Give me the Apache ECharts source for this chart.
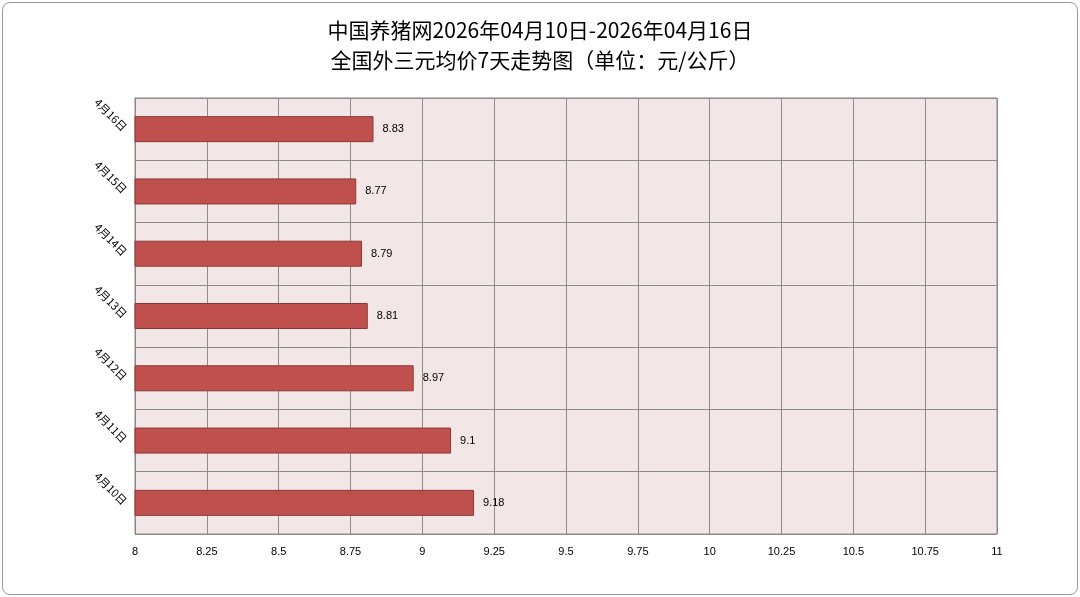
<!DOCTYPE html>
<html><head><meta charset="utf-8">
<script src="https://cdn.jsdelivr.net/npm/echarts@6/dist/echarts.min.js"></script>
<style>html,body{margin:0;padding:0;background:#fff}#c{width:1080px;height:597px}
#f{position:absolute;left:2px;top:2px;width:1074px;height:591px;border:1px solid #999;border-radius:8px;pointer-events:none}</style>
</head><body><div id="c"></div><div id="f"></div>
<script>
const categories = ['4月10日','4月11日','4月12日','4月13日','4月14日','4月15日','4月16日'];
const prices = [9.18, 9.1, 8.97, 8.81, 8.79, 8.77, 8.83];
const titleLines = ['中国养猪网2026年04月10日-2026年04月16日', '全国外三元均价7天走势图（单位：元/公斤）'];
const chart = echarts.init(document.getElementById('c'));
chart.setOption({
  animation: false,
  title: {text: titleLines.join('\n'), left: 'center', top: 10,
    textStyle: {fontSize: 21, fontWeight: 'normal', color: '#000', lineHeight: 30, fontFamily: 'Noto Sans CJK SC'}},
  grid: {left: 135, right: 83, top: 98, bottom: 63, show: true, backgroundColor: '#f3e6e7', borderColor: '#888', borderWidth: 1},
  xAxis: {type: 'value', min: 8, max: 11, interval: 0.25,
    axisLine: {show: false}, axisTick: {show: false},
    splitLine: {lineStyle: {color: '#8c8c8c'}},
    axisLabel: {color: '#000', fontSize: 11, margin: 12, fontFamily: 'Liberation Sans'}},
  yAxis: {type: 'category', data: categories,
    axisLine: {lineStyle: {color: '#888'}}, axisTick: {show: false},
    splitLine: {show: true, lineStyle: {color: '#8c8c8c'}},
    axisLabel: {rotate: -45, color: '#000', fontSize: 11, margin: 10, fontFamily: 'Noto Sans CJK SC'}},
  series: [{type: 'bar', data: prices, barWidth: 26,
    itemStyle: {color: '#c0504d', borderColor: '#8c3836', borderWidth: 1},
    label: {show: true, position: 'right', distance: 9, color: '#000', fontSize: 11, fontFamily: 'Liberation Sans'}}]
});
</script></body></html>
